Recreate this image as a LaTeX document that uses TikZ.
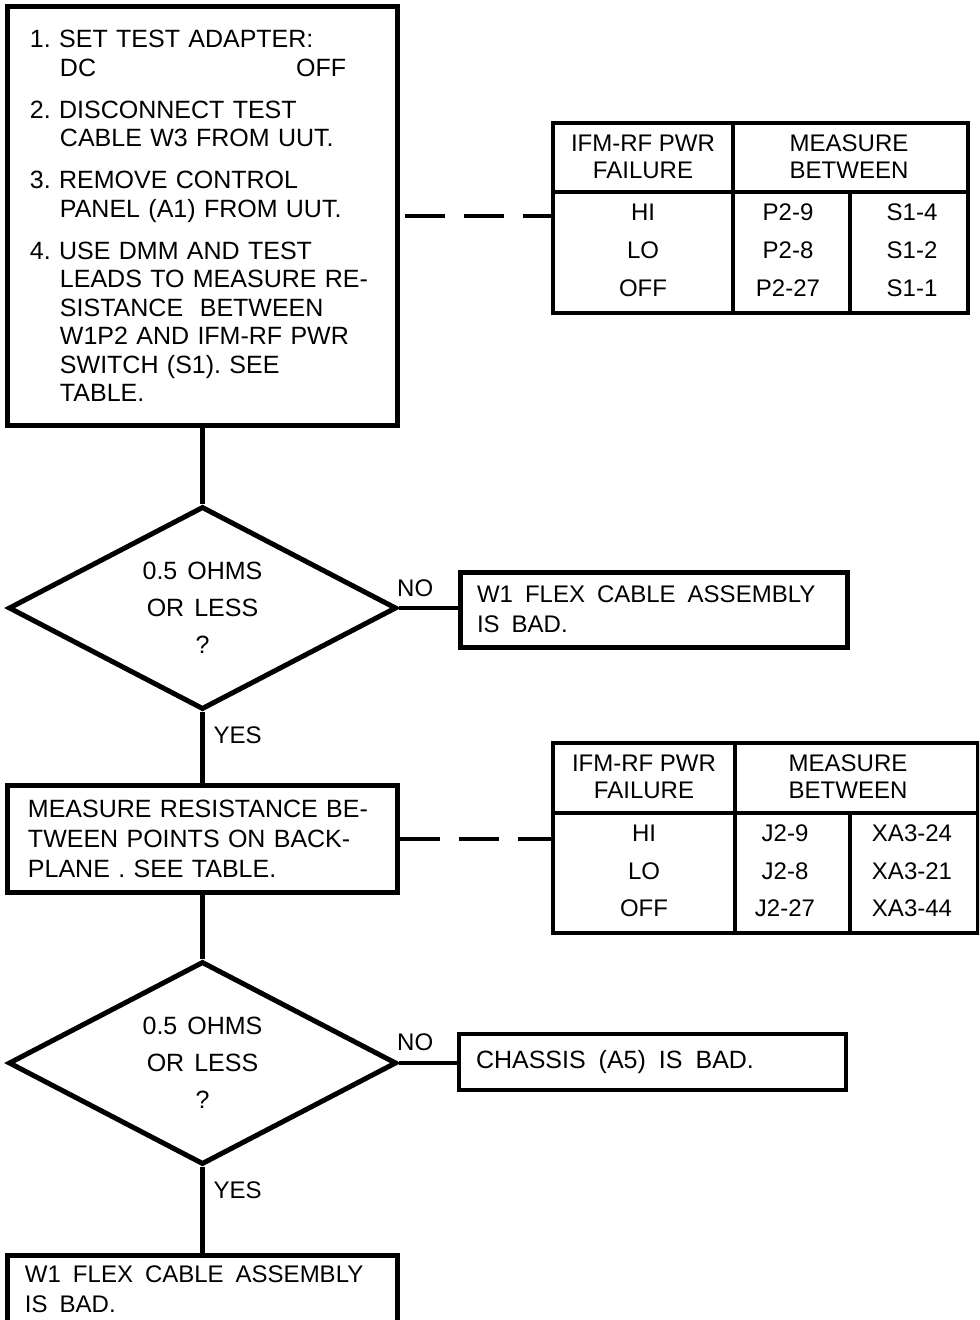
\documentclass[tikz,border=0pt]{standalone}
\usepackage{fontspec}
\setmainfont{Liberation Sans}
\usetikzlibrary{shapes.geometric}
\frenchspacing
\newcommand{\subind}{\hspace*{30bp}}
\newcommand{\wordsp}[1]{\spaceskip #1\relax}
\tikzset{
  flow_box/.style = {draw, line width=5bp, align=left, inner xsep=20bp,
    inner ysep=10bp, font=\fontsize{25bp}{30bp}\selectfont},
  wide_sp/.style = {font=\fontsize{24bp}{30bp}\selectfont,
    execute at begin node=\wordsp{12bp}},
  chk_n/.style = {diamond, draw, line width=5bp, aspect=1.91,
    minimum width=388bp, minimum height=203bp, inner sep=0pt, align=center,
    font=\fontsize{25bp}{37bp}\selectfont\wordsp{10bp}},
  tab_box/.style = {draw, line width=4bp, inner sep=0pt},
  cell_n/.style = {inner sep=0pt, align=center,
    font=\fontsize{24bp}{27bp}\selectfont},
  ans_n/.style = {inner sep=0pt, font=\fontsize{24bp}{24bp}\selectfont},
  flow_l/.style = {line width=4.5bp},
  dash_l/.style = {line width=4bp, dash pattern=on 40bp off 19bp}}

\begin{document}
\begin{tikzpicture}[x=1bp, y=-1bp]
\useasboundingbox (0,0) rectangle (979,1320);
\clip (0,0) rectangle (979,1320);

% main column of steps and checks
\node [flow_box, text width=345bp, inner xsep=22bp, minimum height=418bp,
  font=\fontsize{25bp}{28.5bp}\selectfont] (setup) at (202.5,216)
  {1.~SET TEST ADAPTER:\\
   \subind DC\hspace*{200bp}OFF\\[13.5bp]
   2.~DISCONNECT TEST\\
   \subind CABLE W3 FROM UUT.\\[13.5bp]
   3.~REMOVE CONTROL\\
   \subind PANEL (A1) FROM UUT.\\[13.5bp]
   4.~USE DMM AND TEST\\
   \subind LEADS TO MEASURE RE-\\
   \subind SISTANCE\ \ BETWEEN\\
   \subind W1P2 AND IFM-RF PWR\\
   \subind SWITCH (S1). SEE\\
   \subind TABLE.};
\node [chk_n] (chk1) at (202.5,608) {0.5 OHMS\\OR LESS\\?};
\node [flow_box, text width=349bp, minimum height=107bp] (meas) at (202.5,838.5)
  {MEASURE RESISTANCE BE-\\TWEEN POINTS ON BACK-\\PLANE . SEE TABLE.};
\node [chk_n] (chk2) at (202.5,1063) {0.5 OHMS\\OR LESS\\?};
\node [flow_box, wide_sp, text width=355bp, inner xsep=17bp, anchor=north] (flex2)
  at (202.5,1253) {W1 FLEX CABLE ASSEMBLY\\IS BAD.\\\mbox{}};

% faults on the NO side
\node [flow_box, wide_sp, text width=353bp, inner xsep=17bp, minimum height=75bp]
  (flex1) at (653.5,609.5) {W1 FLEX CABLE ASSEMBLY\\IS BAD.};
\node [flow_box, line width=3.5bp, text width=353bp, inner xsep=17bp,
  minimum height=56bp, execute at begin node=\wordsp{13bp}]
  (chassis) at (652.5,1062) {CHASSIS (A5) IS BAD.};

% connectors
\draw [flow_l] (setup.south) -- (chk1.north);
\draw [flow_l] (chk1.east) -- (chk1.east -| flex1.west);
\draw [flow_l] (chk1.south) -- (meas.north);
\draw [flow_l] (meas.south) -- (chk2.north);
\draw [flow_l] (chk2.east) -- (chk2.east -| chassis.west);
\draw [flow_l] (chk2.south) -- (flex2.north);

\node [ans_n, anchor=south west] (no1) at ([xshift=-2bp,yshift=11bp]chk1.east) {NO};
\node [ans_n, anchor=west] (yes1) at ([xshift=11bp,yshift=-23bp]chk1.south) {YES};
\node [ans_n, anchor=south west] (no2) at ([xshift=-2bp,yshift=12bp]chk2.east) {NO};
\node [ans_n, anchor=west] (yes2) at ([xshift=11bp,yshift=-23bp]chk2.south) {YES};

% table: W1P2 to S1
\node [tab_box, minimum width=415bp, minimum height=190bp] (tab1) at (760.5,218) {};
\draw [line width=4bp] (553,192) -- (968,192) (733,123) -- (733,313)
  (850,192) -- (850,313);
\node [cell_n] (t1h1) at (643,157) {IFM-RF PWR\\FAILURE};
\node [cell_n] (t1h2) at (849,157) {MEASURE\\BETWEEN};
\foreach \sw/\pin/\pol [count=\i] in {HI/P2-9/S1-4, LO/P2-8/S1-2, OFF/P2-27/S1-1} {
  \node [cell_n] (t1a\i) at (643,174+38*\i) {\sw};
  \node [cell_n] (t1b\i) at (788,174+38*\i) {\pin};
  \node [cell_n] (t1c\i) at (912,174+38*\i) {\pol};
}

% table: backplane points
\node [tab_box, minimum width=425bp, minimum height=190bp] (tab2) at (765.5,838) {};
\draw [line width=4bp] (553,813) -- (978,813) (735,743) -- (735,933)
  (850,813) -- (850,933);
\node [cell_n] (t2h1) at (644,776.5) {IFM-RF PWR\\FAILURE};
\node [cell_n] (t2h2) at (848,776.5) {MEASURE\\BETWEEN};
\foreach \sw/\pin/\pol [count=\i] in {HI/J2-9/XA3-24, LO/J2-8/XA3-21, OFF/J2-27/XA3-44} {
  \node [cell_n] (t2a\i) at (644,796+37.5*\i) {\sw};
  \node [cell_n] (t2b\i) at (785,796+37.5*\i) {\pin};
  \node [cell_n] (t2c\i) at (912,796+37.5*\i) {\pol};
}

% dashed links to the tables
\draw [dash_l, dash phase=54bp] (setup.east) -- (setup.east -| tab1.west);
\draw [dash_l] (meas.east) -- (meas.east -| tab2.west);
\end{tikzpicture}
\end{document}
